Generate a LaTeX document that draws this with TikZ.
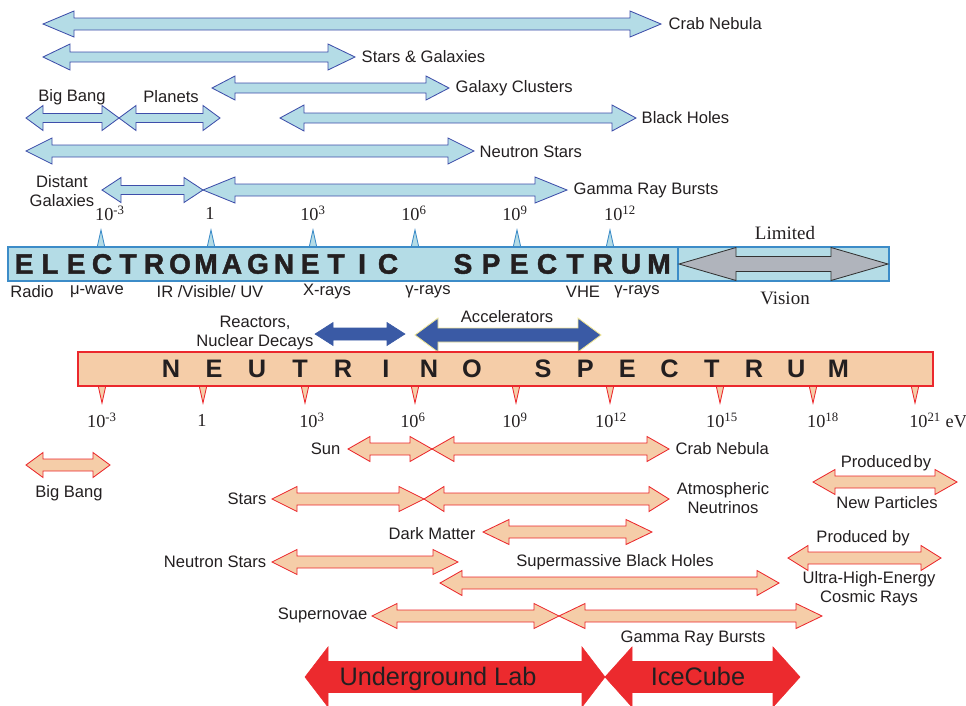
\documentclass[tikz,border=0pt]{standalone}
\usepackage{fontspec}
\setmainfont{Liberation Sans}
\newfontfamily\numserif{Liberation Serif}
\newfontfamily\blackfont[FakeBold=1.6]{Liberation Sans Bold}
\usepackage{tikz}
\usetikzlibrary{positioning}

\definecolor{emfill}{RGB}{180,220,230}
\definecolor{emline}{RGB}{62,78,170}
\definecolor{embar}{RGB}{60,140,200}
\definecolor{nufill}{RGB}{245,205,168}
\definecolor{nuline}{RGB}{235,40,45}
\definecolor{accblue}{RGB}{58,90,165}
\definecolor{accedge}{RGB}{240,230,150}
\definecolor{greyarr}{RGB}{176,180,188}
\definecolor{labred}{RGB}{236,42,46}
\definecolor{ink}{RGB}{35,31,32}

\newcommand{\labfont}{\fontsize{11.8}{13.5}\selectfont}
\newcommand{\numfont}{\numserif\fontsize{13}{15}\selectfont}
\newcommand{\visfont}{\numserif\fontsize{13.5}{15}\selectfont}

% double headed range arrow: style, left tip, right tip, y, head length, head half, shaft half
\newcommand{\rangearrow}[7]{%
  \draw[#1] (#2,#4) -- ++(#5,-#6) -- ++(0,#6-#7) -- ({#3-#5},{#4-#7}) -- ++(0,#7-#6) -- (#3,#4)
    -- ++(-#5,#6) -- ++(0,#7-#6) -- ({#2+#5},{#4+#7}) -- ++(0,#6-#7) -- cycle;}

\begin{document}
\begin{tikzpicture}[x=0.25mm,y=-0.25mm,
  emarrow/.style={fill=emfill,draw=emline,line width=0.6pt},
  nuarrow/.style={fill=nufill,draw=nuline,line width=0.6pt},
  lab/.style={font=\labfont,text=ink,inner sep=1pt},
  num/.style={font=\numfont,text=ink,inner sep=0pt},
  vis/.style={font=\visfont,text=ink,inner sep=0pt},
  emlet/.style={font={\blackfont\fontsize{20}{22}\selectfont},text=ink,inner sep=0pt},
  nulet/.style={font={\bfseries\fontsize{18}{20}\selectfont},text=ink,inner sep=0pt},
  biglab/.style={font={\fontsize{18}{20}\selectfont},text=ink,inner sep=0pt,anchor=base}]
  \useasboundingbox (0,0) rectangle (966,705);

  % photon sources
  \rangearrow{emarrow}{43}{661}{24}{31}{13}{6}
  \rangearrow{emarrow}{43}{355}{57}{27}{13}{5}
  \rangearrow{emarrow}{212}{449}{88}{23}{12}{5}
  \rangearrow{emarrow}{26}{119}{118}{17}{12.5}{4.5}
  \rangearrow{emarrow}{119}{220}{118}{17}{12.5}{4.5}
  \rangearrow{emarrow}{280}{636}{118}{24}{13}{5}
  \rangearrow{emarrow}{26}{474}{151}{26}{13}{6}
  \rangearrow{emarrow}{102}{203}{190}{19}{12.5}{4.5}
  \rangearrow{emarrow}{203}{567}{190}{32}{13}{6}

  \node[lab,anchor=west] (crab) at (667,24) {Crab Nebula};
  \node[lab,anchor=west] (stars) at (360,57) {Stars \& Galaxies};
  \node[lab,anchor=west] (clusters) at (454,88) {Galaxy Clusters};
  \node[lab] (bigbang) at (72,97) {Big Bang};
  \node[lab] (planets) at (171,97) {Planets};
  \node[lab,anchor=west] (holes) at (640,118) {Black Holes};
  \node[lab,anchor=west] (neutron) at (478,152) {Neutron Stars};
  \node[lab,align=center] (distant) at (62,191) {Distant\\Galaxies};
  \node[lab,anchor=west] (grb) at (572,190) {Gamma Ray Bursts};

  % electromagnetic scale
  \foreach \x/\t [count=\i] in {110/10\textsuperscript{-3},210/1,313/10\textsuperscript{3},
      414/10\textsuperscript{6},515/10\textsuperscript{9},620/10\textsuperscript{12}}
    \node[num] (emnum\i) at (\x,213) {\t};
  \foreach \x in {101,211,313,415,517,610}
    \draw[fill=emfill,draw=embar,line width=0.6pt] (\x-4,248) -- (\x,230) -- (\x+4,248);
  \draw[fill=emfill,draw=embar,line width=0.8pt] (8,247) rectangle (889,281);
  \draw[embar,line width=0.8pt] (678,247) -- (678,281);
  \rangearrow{fill=greyarr,draw=black!80,line width=0.6pt}{679}{888}{264}{57}{16.5}{7.5}
  \node[vis] (limited) at (785,233) {Limited};
  \node[vis] (vision) at (785,298) {Vision};

  \foreach \ch [count=\i from 0] in {E,L,E,C,T,R,O,M,A,G,N,E,T,I,C}
    \node[emlet] (em\i) at (24+26*\i,264) {\ch};
  \foreach \ch [count=\i from 0] in {S,P,E,C,T,R,U,M}
    \node[emlet] (sp\i) at (463+28*\i,264) {\ch};

  \node[lab] (radio) at (32,292) {Radio};
  \node[lab] (mwave) at (97,292) {μ-wave};
  \node[lab] (ir) at (210,292) {IR /Visible/ UV};
  \node[lab] (xrays) at (327,292) {X-rays};
  \node[lab] (gamma) at (428,292) {γ-rays};
  \node[lab] (vhe) at (583,292) {VHE};
  \node[lab] (vhegamma) at (637,292) {γ-rays};

  % man made sources
  \rangearrow{fill=accblue,draw=accblue}{315}{405}{334}{18}{11.5}{6}
  \rangearrow{fill=accblue,draw=accedge,line width=0.6pt}{415}{601}{335}{23}{17}{7}
  \node[lab,align=center] (reactors) at (255,333) {Reactors,\\Nuclear Decays};
  \node[lab] (acc) at (507,317) {Accelerators};

  % neutrino scale
  \foreach \x in {102,203,305,415,516,610,720,813,915}
    \draw[fill=nufill,draw=nuline,line width=0.6pt] (\x-4,385) -- (\x,403) -- (\x+4,385);
  \draw[fill=nufill,draw=nuline,line width=0.8pt] (78,352) rectangle (933,386);
  \foreach \ch [count=\i from 0] in {N,E,U,T,R,I,N,O}
    \node[nulet] (nu\i) at (171+43*\i,369) {\ch};
  \foreach \ch [count=\i from 0] in {S,P,E,C,T,R,U,M}
    \node[nulet] (nusp\i) at (543+42.2*\i,369) {\ch};
  \foreach \x/\t [count=\i] in {102/10\textsuperscript{-3},202/1,312/10\textsuperscript{3},
      413/10\textsuperscript{6},515/10\textsuperscript{9},611/10\textsuperscript{12},
      722/10\textsuperscript{15},823/10\textsuperscript{18}}
    \node[num] (nunum\i) at (\x,420) {\t};
  \node[num,anchor=west] (ev) at (909,420) {10\textsuperscript{21} eV};

  % neutrino sources
  \rangearrow{nuarrow}{26}{110}{465}{17}{12.5}{6}
  \rangearrow{nuarrow}{348}{432}{449}{22}{12.5}{6}
  \rangearrow{nuarrow}{432}{669}{449}{22}{12.5}{6}
  \rangearrow{nuarrow}{272}{424}{499}{25}{12.5}{6}
  \rangearrow{nuarrow}{424}{669}{499}{20}{12.5}{6}
  \rangearrow{nuarrow}{483}{652}{532}{26}{12.5}{6}
  \rangearrow{nuarrow}{272}{458}{562}{25}{12.5}{6}
  \rangearrow{nuarrow}{440}{779}{583}{22}{12.5}{6}
  \rangearrow{nuarrow}{372}{559}{616}{25}{12.5}{6}
  \rangearrow{nuarrow}{559}{822}{616}{26}{12.5}{6}
  \rangearrow{nuarrow}{813}{957}{482}{22}{12.5}{6}
  \rangearrow{nuarrow}{788}{941}{558}{20}{12.5}{6}

  \node[lab] (nubang) at (69,493) {Big Bang};
  \node[lab,anchor=east] (sun) at (342,449) {Sun};
  \node[lab,anchor=west] (nucrab) at (674,449) {Crab Nebula};
  \node[lab,anchor=east] (nustars) at (268,499) {Stars};
  \node[lab,align=center] (atmos) at (723,498) {Atmospheric\\Neutrinos};
  \node[lab,anchor=east] (dark) at (477,534) {Dark Matter};
  \node[lab,anchor=east] (nuneutron) at (268,562) {Neutron Stars};
  \node[lab] (smbh) at (615,562) {Supermassive Black Holes};
  \node[lab,anchor=east] (snova) at (369,615) {Supernovae};
  \node[lab] (nugrb) at (693,638) {Gamma Ray Bursts};
  \node[lab] (prod1) at (886,463) {Produced\hspace{0.12em}by};
  \node[lab] (newpart) at (887,503) {New Particles};
  \node[lab] (prod2) at (863,538) {Produced by};
  \node[lab,align=center] (uhecr) at (869,589) {Ultra-High-Energy\\Cosmic Rays};

  % detectors
  \rangearrow{fill=labred,draw=labred}{305}{605}{677}{23}{30}{15.5}
  \rangearrow{fill=labred,draw=labred}{605}{800}{677}{27}{30}{15.5}
  \node[biglab] (ulab) at (438,685) {Underground Lab};
  \node[biglab] (icecube) at (698,685) {IceCube};
\end{tikzpicture}
\end{document}
